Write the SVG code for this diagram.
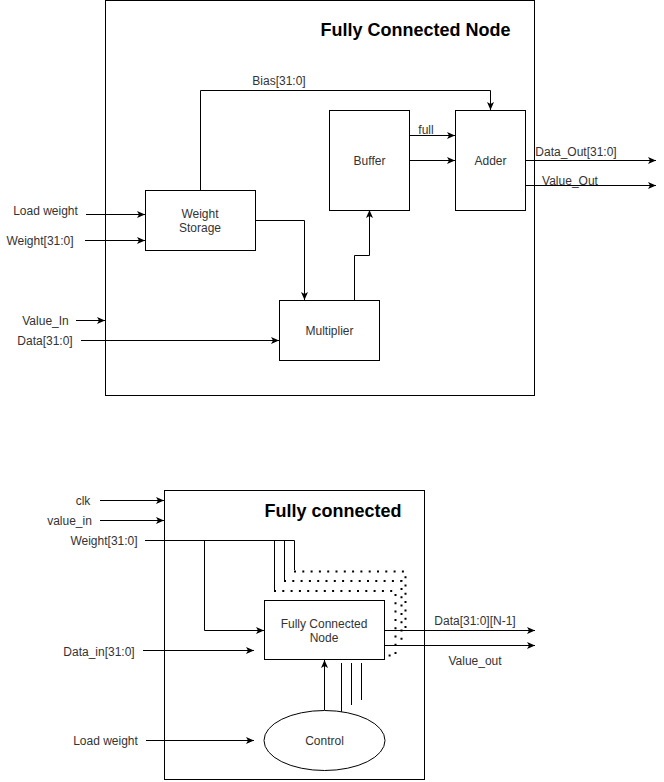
<svg xmlns="http://www.w3.org/2000/svg" width="664" height="782" viewBox="0 0 664 782">
<style>
.box{fill:#fff;stroke:#000;stroke-width:1}
.frame{fill:none;stroke:#000;stroke-width:1}
.ln{fill:none;stroke:#000;stroke-width:1}
.arr{fill:none;stroke:#000;stroke-width:1;marker-end:url(#ah)}
.dot{fill:none;stroke:#000;stroke-width:2;stroke-dasharray:2 6.3}
text{font-family:"Liberation Sans",Arial,sans-serif;font-size:12px;fill:#333;text-anchor:middle}
.t{font-size:18px;font-weight:bold;fill:#000}
</style>
<defs>
<marker id="ah" markerUnits="userSpaceOnUse" markerWidth="10" markerHeight="10" viewBox="0 0 10 10" refX="9" refY="5" orient="auto">
<path d="M1,1.5 L9,5 L1,8.5 L3,5 Z" fill="#000"/>
</marker>
</defs>
<rect width="664" height="782" fill="#fff"/>

<g id="frame-top">
<rect class="frame" x="105.5" y="0.5" width="429" height="395"/>
<text class="t" x="415.5" y="36">Fully Connected Node</text>
</g>
<g id="frame-bottom">
<rect class="frame" x="164.5" y="490.5" width="260" height="289"/>
<text class="t" x="333" y="517">Fully connected</text>
</g>

<g id="connectors">
<!-- top -->
<path class="arr" d="M86,214.5 H145"/>
<path class="arr" d="M85,240.5 H145"/>
<path class="arr" d="M76,320.5 H105"/>
<path class="arr" d="M81,340.5 H279"/>
<path class="arr" d="M200.5,190 V90.5 H490.5 V110"/>
<path class="arr" d="M255,220.5 H304.5 V300"/>
<path class="arr" d="M354.5,300 V255.5 H369.5 V210"/>
<path class="arr" d="M409,135.5 H455"/>
<path class="arr" d="M409,160.5 H455"/>
<path class="arr" d="M525,160.5 H656"/>
<path class="arr" d="M525,185.5 H656"/>
<!-- bottom -->
<path class="arr" d="M100,500.5 H164"/>
<path class="arr" d="M100,520.5 H164"/>
<path class="ln" d="M145,540.5 H294.5 V570"/>
<path class="ln" d="M274.5,540.5 V590"/>
<path class="ln" d="M284.5,540.5 V580"/>
<path class="arr" d="M204.5,540.5 V630.5 H264"/>
<path class="arr" d="M143,650.5 H254"/>
<path class="arr" d="M384,630.5 H535"/>
<path class="arr" d="M384,645.5 H535"/>
<path class="arr" d="M146,740.5 H254"/>
<path class="arr" d="M324.5,710 V660"/>
<path class="ln" d="M341.5,712 V663"/>
<path class="ln" d="M351.5,705 V663"/>
<path class="ln" d="M361.5,700 V663"/>
<path class="dot" d="M294,571.5 H405.5 V634"/>
<path class="dot" d="M284,581 H401.5 V644"/>
<path class="dot" d="M274,591 H395.5 V655.5 H385"/>
</g>

<g id="labels">
<text x="45.5" y="215">Load weight</text>
<text x="40" y="244.5">Weight[31:0]</text>
<text x="45.5" y="324.5">Value_In</text>
<text x="45" y="344.5">Data[31:0]</text>
<text x="279" y="85">Bias[31:0]</text>
<text x="426" y="134">full</text>
<text x="576" y="155.5">Data_Out[31:0]</text>
<text x="570" y="184.5">Value_Out</text>
<text x="83" y="504.5">clk</text>
<text x="69.5" y="525">value_in</text>
<text x="104" y="545">Weight[31:0]</text>
<text x="99" y="655.5">Data_in[31:0]</text>
<text x="475" y="625">Data[31:0][N-1]</text>
<text x="475" y="665">Value_out</text>
<text x="105.5" y="745">Load weight</text>
</g>

<g id="weight-storage">
<rect class="box" x="145.5" y="190.5" width="110" height="60"/>
<text x="200" y="217.5">Weight</text>
<text x="200" y="231.5">Storage</text>
</g>
<g id="buffer">
<rect class="box" x="329.5" y="110.5" width="80" height="100"/>
<text x="369.5" y="164.5">Buffer</text>
</g>
<g id="adder">
<rect class="box" x="455.5" y="110.5" width="70" height="100"/>
<text x="490.5" y="164.5">Adder</text>
</g>
<g id="multiplier">
<rect class="box" x="279.5" y="300.5" width="100" height="60"/>
<text x="329.5" y="334.5">Multiplier</text>
</g>
<g id="fc-node">
<rect class="box" x="264.5" y="600.5" width="120" height="59"/>
<text x="324" y="628">Fully Connected</text>
<text x="324" y="642">Node</text>
</g>
<g id="control">
<ellipse class="box" cx="324.5" cy="740.5" rx="60.5" ry="30"/>
<text x="324.5" y="745">Control</text>
</g>
</svg>
